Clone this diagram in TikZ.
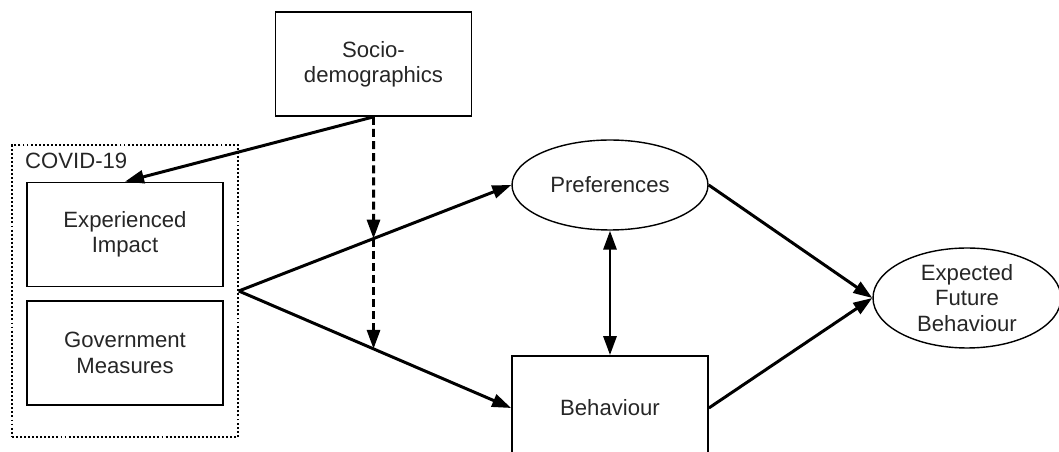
\documentclass[tikz,border=0pt]{standalone}
\usepackage{fontspec}
\setmainfont{Liberation Sans}
\usetikzlibrary{arrows.meta,shapes.geometric}

\def\picW{1059}
\def\picH{452}

\begin{document}
\begin{tikzpicture}[x=0.02cm, y=-0.02cm, >={Triangle[length=0.38cm,width=0.26cm]},
    every node/.style={font=\fontsize{12.6}{14.4}\selectfont, text=black!85, align=center},
    factor/.style={draw, line width=1pt, minimum width=3.92cm, minimum height=2.08cm, inner sep=0pt},
    latent/.style={draw, ellipse, line width=0.8pt, inner sep=0pt},
    group/.style={draw, line width=0.9pt, dash pattern=on 1.1pt off 1.2pt},
    effect/.style={->, line width=1.7pt},
    moderate/.style={->, line width=1.7pt, dash pattern=on 4.5pt off 2.4pt}]
  \useasboundingbox (0,0) rectangle (\picW,\picH);
  % covid block
  \node[group, minimum width=4.52cm, minimum height=5.84cm] (covid) at (125,291) {};
  \node[anchor=base west] (covidlabel) at (19,169) {COVID-19};
  \node[factor] (exper) at (125,234.5) {Experienced\\Impact};
  \node[factor] (gov) at (125,353) {Government\\Measures};
  % other factors
  \node[factor] (socio) at (373.5,64) {Socio-\\demographics};
  \node[latent, minimum width=3.92cm, minimum height=1.8cm] (pref) at (610,185) {Preferences};
  \node[factor] (behav) at (610,408) {Behaviour};
  \node[latent, minimum width=3.76cm, minimum height=2cm] (expect) at (967,298) {Expected\\Future\\Behaviour};
  % paths
  \draw[effect] (socio.south) -- (exper.north);
  \draw[effect] (covid.east) -- (pref.west);
  \draw[effect] (covid.east) -- (behav.west);
  \draw[effect] (pref.east) -- (expect.west);
  \draw[effect] (behav.east) -- (expect.west);
  \draw[effect, <->] (pref.south) -- (behav.north);
  \coordinate (m1) at (intersection of socio.south--socio.north and covid.east--pref.west);
  \coordinate (m2) at (intersection of socio.south--socio.north and covid.east--behav.west);
  \draw[moderate] (socio.south) -- (m1);
  \draw[moderate] (m1) -- (m2);
\end{tikzpicture}
\end{document}
